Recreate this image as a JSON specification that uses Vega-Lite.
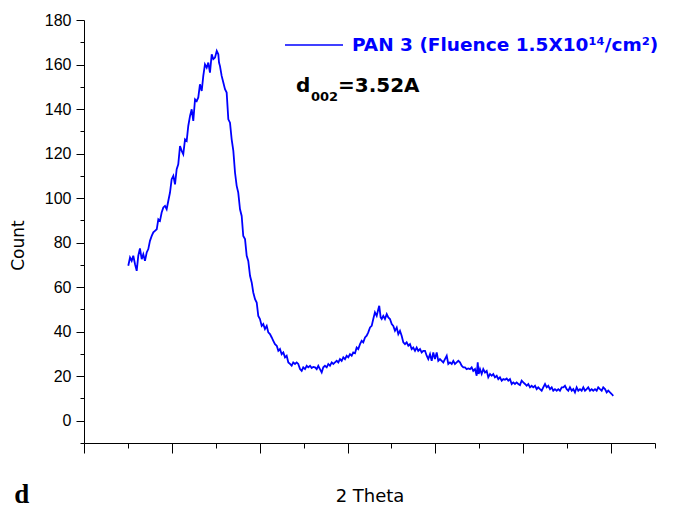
{
  "$schema": "https://vega.github.io/schema/vega-lite/v6.json",
  "width": 571,
  "height": 423,
  "autosize": {"type": "none"},
  "padding": {"left": 84, "top": 20, "right": 19, "bottom": 64},
  "background": "white",
  "config": {"view": {"stroke": null}, "font": "Liberation Sans"},
  "title": {"text": "d", "orient": "bottom", "anchor": "start", "frame": "bounds", "font": "Liberation Serif", "fontWeight": "bold", "fontSize": 27, "color": "black", "baseline": "alphabetic", "offset": -3, "dx": 5},
  "datasets": {
    "scan": [
      {"t":15.04,"c":69.6},{"t":15.24,"c":73.3},{"t":15.43,"c":71.8},{"t":15.61,"c":74.1},{"t":15.81,"c":70.3},{"t":16.00,"c":67.3},{"t":16.18,"c":74.1},{"t":16.37,"c":77.4},{"t":16.57,"c":72.6},{"t":16.75,"c":74.8},{"t":16.94,"c":71.8},{"t":17.14,"c":75.6},{"t":17.32,"c":77.1},{"t":17.51,"c":80.8},{"t":17.71,"c":83.0},{"t":17.89,"c":84.6},{"t":18.08,"c":85.3},{"t":18.28,"c":86.0},{"t":18.46,"c":90.5},{"t":18.65,"c":89.8},{"t":18.84,"c":93.5},{"t":19.03,"c":95.8},{"t":19.22,"c":96.5},{"t":19.41,"c":95.0},{"t":19.60,"c":98.8},{"t":19.79,"c":102.5},{"t":19.98,"c":108.5},{"t":20.17,"c":110.0},{"t":20.36,"c":106.2},{"t":20.55,"c":113.0},{"t":20.73,"c":115.2},{"t":20.93,"c":123.4},{"t":21.12,"c":121.2},{"t":21.30,"c":119.7},{"t":21.50,"c":126.4},{"t":21.69,"c":125.7},{"t":21.87,"c":132.4},{"t":22.07,"c":136.9},{"t":22.26,"c":139.9},{"t":22.44,"c":134.7},{"t":22.64,"c":144.4},{"t":22.83,"c":143.6},{"t":23.01,"c":145.2},{"t":23.20,"c":151.1},{"t":23.40,"c":148.1},{"t":23.58,"c":154.9},{"t":23.77,"c":160.1},{"t":23.97,"c":158.6},{"t":24.15,"c":160.9},{"t":24.34,"c":156.4},{"t":24.54,"c":164.6},{"t":24.72,"c":162.4},{"t":24.91,"c":163.1},{"t":25.11,"c":166.1},{"t":25.29,"c":164.6},{"t":25.37,"c":160.9},{"t":25.48,"c":159.3},{"t":25.67,"c":154.9},{"t":25.86,"c":151.9},{"t":26.05,"c":148.9},{"t":26.24,"c":147.4},{"t":26.43,"c":135.4},{"t":26.62,"c":133.9},{"t":26.81,"c":126.4},{"t":27.00,"c":121.2},{"t":27.19,"c":111.5},{"t":27.38,"c":105.5},{"t":27.56,"c":102.5},{"t":27.76,"c":95.0},{"t":27.95,"c":92.0},{"t":28.13,"c":83.0},{"t":28.33,"c":81.6},{"t":28.52,"c":74.1},{"t":28.70,"c":71.8},{"t":28.90,"c":65.1},{"t":29.09,"c":62.1},{"t":29.27,"c":57.6},{"t":29.47,"c":54.6},{"t":29.66,"c":53.1},{"t":29.84,"c":47.1},{"t":30.03,"c":45.7},{"t":30.23,"c":42.6},{"t":30.41,"c":43.4},{"t":30.60,"c":41.2},{"t":30.80,"c":42.6},{"t":30.98,"c":39.7},{"t":31.17,"c":38.9},{"t":31.37,"c":37.4},{"t":31.55,"c":35.9},{"t":31.74,"c":34.4},{"t":31.94,"c":33.7},{"t":32.12,"c":31.4},{"t":32.31,"c":32.2},{"t":32.50,"c":29.9},{"t":32.69,"c":30.7},{"t":32.88,"c":28.5},{"t":33.07,"c":29.2},{"t":33.26,"c":26.2},{"t":33.45,"c":25.5},{"t":33.64,"c":24.7},{"t":33.82,"c":26.2},{"t":34.02,"c":25.5},{"t":34.21,"c":26.2},{"t":34.39,"c":25.5},{"t":34.59,"c":23.2},{"t":34.78,"c":22.4},{"t":34.96,"c":24.0},{"t":35.16,"c":23.2},{"t":35.35,"c":24.7},{"t":35.53,"c":24.0},{"t":35.73,"c":24.7},{"t":35.92,"c":23.7},{"t":36.10,"c":24.2},{"t":36.30,"c":24.0},{"t":36.49,"c":23.2},{"t":36.67,"c":24.7},{"t":36.86,"c":23.2},{"t":37.06,"c":21.7},{"t":37.24,"c":24.0},{"t":37.43,"c":24.7},{"t":37.63,"c":24.0},{"t":37.81,"c":25.5},{"t":38.00,"c":24.7},{"t":38.20,"c":26.2},{"t":38.38,"c":25.5},{"t":38.57,"c":26.2},{"t":38.77,"c":26.9},{"t":38.95,"c":26.2},{"t":39.14,"c":27.7},{"t":39.33,"c":26.9},{"t":39.52,"c":28.5},{"t":39.71,"c":27.7},{"t":39.90,"c":29.2},{"t":40.09,"c":28.5},{"t":40.28,"c":29.9},{"t":40.47,"c":29.2},{"t":40.65,"c":30.7},{"t":40.85,"c":30.3},{"t":41.04,"c":32.9},{"t":41.22,"c":32.2},{"t":41.42,"c":34.4},{"t":41.61,"c":35.9},{"t":41.79,"c":35.2},{"t":41.99,"c":37.4},{"t":42.18,"c":38.2},{"t":42.36,"c":39.7},{"t":42.56,"c":41.9},{"t":42.75,"c":42.6},{"t":42.93,"c":45.7},{"t":43.12,"c":48.7},{"t":43.32,"c":47.1},{"t":43.50,"c":50.1},{"t":43.61,"c":51.6},{"t":43.77,"c":46.4},{"t":43.89,"c":45.7},{"t":44.07,"c":47.1},{"t":44.26,"c":45.7},{"t":44.46,"c":47.9},{"t":44.64,"c":46.4},{"t":44.83,"c":45.7},{"t":45.03,"c":43.4},{"t":45.21,"c":42.6},{"t":45.40,"c":40.4},{"t":45.60,"c":41.9},{"t":45.78,"c":38.9},{"t":45.97,"c":40.4},{"t":46.16,"c":38.2},{"t":46.35,"c":35.2},{"t":46.54,"c":34.4},{"t":46.73,"c":35.2},{"t":46.92,"c":33.7},{"t":47.11,"c":34.4},{"t":47.30,"c":32.2},{"t":47.48,"c":32.9},{"t":47.68,"c":31.4},{"t":47.87,"c":32.9},{"t":48.05,"c":31.4},{"t":48.25,"c":32.2},{"t":48.44,"c":30.7},{"t":48.62,"c":31.4},{"t":48.82,"c":31.4},{"t":49.01,"c":29.2},{"t":49.19,"c":27.7},{"t":49.39,"c":29.9},{"t":49.58,"c":26.9},{"t":49.76,"c":30.7},{"t":49.95,"c":27.7},{"t":50.15,"c":30.7},{"t":50.33,"c":26.9},{"t":50.52,"c":27.7},{"t":50.72,"c":26.9},{"t":50.90,"c":26.2},{"t":51.09,"c":27.7},{"t":51.29,"c":29.2},{"t":51.47,"c":25.5},{"t":51.66,"c":26.2},{"t":51.86,"c":25.5},{"t":52.04,"c":26.9},{"t":52.23,"c":25.5},{"t":52.42,"c":26.2},{"t":52.61,"c":26.9},{"t":52.80,"c":26.2},{"t":52.99,"c":24.7},{"t":53.18,"c":24.0},{"t":53.37,"c":24.0},{"t":53.56,"c":23.2},{"t":53.75,"c":23.5},{"t":53.94,"c":23.2},{"t":54.13,"c":24.0},{"t":54.31,"c":22.4},{"t":54.51,"c":23.2},{"t":54.70,"c":20.2},{"t":54.82,"c":26.2},{"t":54.93,"c":21.0},{"t":55.08,"c":23.2},{"t":55.27,"c":21.0},{"t":55.45,"c":23.2},{"t":55.65,"c":21.7},{"t":55.84,"c":22.4},{"t":56.02,"c":19.5},{"t":56.22,"c":21.0},{"t":56.41,"c":20.2},{"t":56.59,"c":21.0},{"t":56.78,"c":19.5},{"t":56.98,"c":20.2},{"t":57.16,"c":18.7},{"t":57.35,"c":19.5},{"t":57.55,"c":18.0},{"t":57.73,"c":18.7},{"t":57.92,"c":18.4},{"t":58.12,"c":19.0},{"t":58.30,"c":18.0},{"t":58.49,"c":18.7},{"t":58.69,"c":16.5},{"t":58.87,"c":17.2},{"t":59.06,"c":16.5},{"t":59.25,"c":17.2},{"t":59.44,"c":16.5},{"t":59.63,"c":16.0},{"t":59.82,"c":18.0},{"t":60.01,"c":17.2},{"t":60.20,"c":16.5},{"t":60.39,"c":15.7},{"t":60.58,"c":16.5},{"t":60.77,"c":15.0},{"t":60.96,"c":15.7},{"t":61.14,"c":15.0},{"t":61.34,"c":15.7},{"t":61.53,"c":14.2},{"t":61.71,"c":15.0},{"t":61.91,"c":14.2},{"t":62.10,"c":13.5},{"t":62.28,"c":15.0},{"t":62.48,"c":16.5},{"t":62.67,"c":15.0},{"t":62.85,"c":15.7},{"t":63.05,"c":14.2},{"t":63.24,"c":15.0},{"t":63.42,"c":13.5},{"t":63.61,"c":14.2},{"t":63.81,"c":13.5},{"t":63.99,"c":14.2},{"t":64.18,"c":13.5},{"t":64.38,"c":15.0},{"t":64.56,"c":15.0},{"t":64.75,"c":15.7},{"t":64.95,"c":14.2},{"t":65.13,"c":13.5},{"t":65.32,"c":15.0},{"t":65.52,"c":13.5},{"t":65.70,"c":14.2},{"t":65.89,"c":12.7},{"t":66.08,"c":15.0},{"t":66.27,"c":13.5},{"t":66.46,"c":14.2},{"t":66.65,"c":13.5},{"t":66.84,"c":15.0},{"t":67.03,"c":13.5},{"t":67.22,"c":14.2},{"t":67.40,"c":15.0},{"t":67.60,"c":13.5},{"t":67.79,"c":14.2},{"t":67.97,"c":13.5},{"t":68.17,"c":14.2},{"t":68.36,"c":13.5},{"t":68.54,"c":15.0},{"t":68.74,"c":14.2},{"t":68.93,"c":13.5},{"t":69.11,"c":15.0},{"t":69.31,"c":14.2},{"t":69.50,"c":12.7},{"t":69.68,"c":13.5},{"t":69.88,"c":12.7},{"t":70.07,"c":12.0},{"t":70.25,"c":11.2}
    ],
    "notes": [{"d": "d", "sub": "002", "rest": "=3.52A", "t": 34.13, "c": 147.5}]
  },
  "encoding": {
    "x": {"field": "t", "type": "quantitative", "scale": {"domain": [10, 75], "nice": false, "zero": false},
      "axis": {"title": "2 Theta", "labels": false, "values": [10,15,20,25,30,35,40,45,50,55,60,65,70,75], "grid": false,
        "domainColor": "black", "domainWidth": 1, "tickColor": "black", "tickWidth": 1,
        "tickSize": {"condition": {"test": "datum.value % 10 === 0", "value": 10}, "value": 5},
        "titleFont": "DejaVu Sans", "titleFontSize": 18, "titleFontWeight": "normal", "titleColor": "black", "titlePadding": 34}},
    "y": {"field": "c", "type": "quantitative", "scale": {"domain": [-10, 180], "nice": false, "zero": false},
      "axis": {"title": "Count", "values": [-10,0,10,20,30,40,50,60,70,80,90,100,110,120,130,140,150,160,170,180], "grid": false,
        "labelExpr": "datum.value % 20 === 0 && datum.value >= 0 ? datum.label : ''",
        "domainColor": "black", "domainWidth": 1, "tickColor": "black", "tickWidth": 1,
        "tickSize": {"condition": {"test": "datum.value % 20 === 0", "value": 8}, "value": 4},
        "labelFont": "Liberation Sans", "labelFontSize": 16, "labelColor": "black", "labelPadding": 5,
        "titleFont": "DejaVu Sans", "titleFontSize": 17, "titleFontWeight": "normal", "titleColor": "black", "titlePadding": 17, "titleY": 225}}
  },
  "layer": [
    {
      "data": {"name": "scan"},
      "mark": {"type": "line", "strokeWidth": 1.8, "interpolate": "linear"},
      "encoding": {
        "color": {"datum": "PAN 3 (Fluence 1.5X10¹⁴/cm²)", "type": "nominal", "scale": {"range": ["#0000ff"]},
          "legend": {"title": null, "orient": "none", "legendX": 200, "legendY": -5, "padding": 0,
            "symbolType": "stroke", "symbolSize": 3364, "symbolStrokeWidth": 1.5,
            "labelFont": "DejaVu Sans", "labelFontSize": 18.5, "labelFontWeight": "bold", "labelColor": "#0000ff", "labelOffset": 8, "labelLimit": 600}}
      }
    },
    {
      "data": {"name": "notes"},
      "mark": {"type": "text", "align": "left", "baseline": "alphabetic", "font": "DejaVu Sans", "fontWeight": "bold", "fontSize": 20, "color": "black"},
      "encoding": {"text": {"field": "d"}}
    },
    {
      "data": {"name": "notes"},
      "mark": {"type": "text", "align": "left", "baseline": "alphabetic", "font": "DejaVu Sans", "fontWeight": "bold", "fontSize": 13, "color": "black", "dx": 15, "dy": 9},
      "encoding": {"text": {"field": "sub"}}
    },
    {
      "data": {"name": "notes"},
      "mark": {"type": "text", "align": "left", "baseline": "alphabetic", "font": "DejaVu Sans", "fontWeight": "bold", "fontSize": 20, "color": "black", "dx": 42},
      "encoding": {"text": {"field": "rest"}}
    }
  ]
}
